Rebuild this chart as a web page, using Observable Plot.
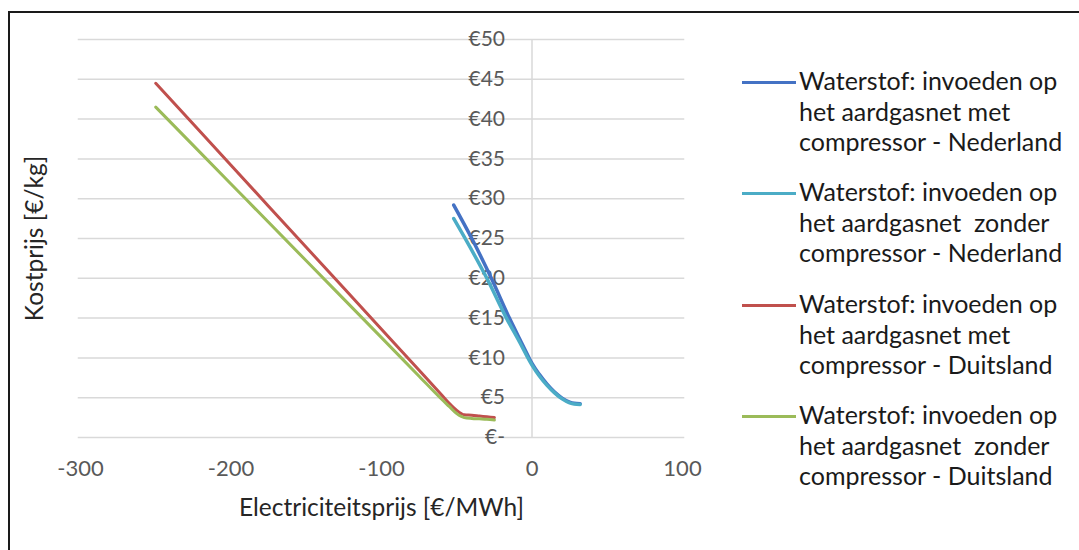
<!DOCTYPE html>
<html>
<head>
<meta charset="utf-8">
<script src="https://cdn.jsdelivr.net/npm/d3@7"></script>
<script src="https://cdn.jsdelivr.net/npm/@observablehq/plot@0.6"></script>
<style>
  html, body { margin: 0; padding: 0; background: #fff; }
  #wrap { position: relative; width: 1079px; height: 550px; overflow: hidden; background: #fff; }
  #frame { position: absolute; left: 8px; top: 11px; width: 1200px; height: 700px;
           border-left: 2px solid #1a1a1a; border-top: 2px solid #1a1a1a; box-sizing: border-box; }
  #chart { position: absolute; left: 0; top: 0; }
  #legend { position: absolute; left: 742px; top: 0; font-family: Lato, "Open Sans", sans-serif;
            font-size: 25px; color: #1a1a1a; }
  .entry { position: absolute; left: 0; width: 340px; }
  .swatch { position: absolute; left: 0; width: 54px; height: 3px; }
  .label { position: absolute; left: 57px; top: 4px; line-height: 30.5px; white-space: nowrap; }
</style>
</head>
<body>
<div id="wrap">
  <div id="frame"></div>
  <div id="chart"></div>
  <div id="legend"></div>
</div>
<script>
// ---- data ----
const seriesNames = [
  "Waterstof: invoeden op\nhet aardgasnet met\ncompressor - Nederland",
  "Waterstof: invoeden op\nhet aardgasnet  zonder\ncompressor - Nederland",
  "Waterstof: invoeden op\nhet aardgasnet met\ncompressor - Duitsland",
  "Waterstof: invoeden op\nhet aardgasnet  zonder\ncompressor - Duitsland"
];
const seriesColors = ["#4472C4", "#4BACC6", "#C0504D", "#9BBB59"];

const xNLmet    = [-52, -40, -27, -15, -8, -3, 0, 5, 10, 15, 20, 25, 28, 32];
const yNLmet    = [29.2, 25.0, 20.0, 15.0, 12.3, 10.4, 9.3, 7.9, 6.7, 5.7, 4.95, 4.45, 4.3, 4.25];
const xNLzonder = [-52, -45, -30, -17, -8, -3, 0, 5, 10, 15, 20, 25, 28, 32];
const yNLzonder = [27.5, 25.2, 20.0, 15.0, 11.9, 10.1, 9.1, 7.7, 6.55, 5.6, 4.85, 4.35, 4.2, 4.15];
const xDEmet    = [-250, -200, -150, -100, -75, -60, -55, -50, -47, -45, -40, -35, -30, -25];
const yDEmet    = [44.5, 34.2, 23.9, 13.6, 8.45, 5.35, 4.3, 3.4, 3.0, 2.85, 2.8, 2.7, 2.6, 2.5];
const xDEzonder = [-250, -200, -150, -100, -75, -60, -55, -50, -47, -45, -40, -35, -30, -25];
const yDEzonder = [41.5, 31.85, 22.2, 12.55, 7.7, 4.8, 3.9, 3.0, 2.65, 2.5, 2.4, 2.35, 2.3, 2.2];

const xTicks = [-300, -200, -100, 0, 100];
const yTicks = [0, 5, 10, 15, 20, 25, 30, 35, 40, 45, 50];
const yTickLabels = ["€-", "€5", "€10", "€15", "€20", "€25", "€30", "€35", "€40", "€45", "€50"];
const xTitle = "Electriciteitsprijs [€/MWh]";
const yTitle = "Kostprijs [€/kg]";

// ---- build ----
const toRows = (xs, ys) => xs.map((x, i) => ({x, y: ys[i]}));
const series = [
  toRows(xNLmet, yNLmet),
  toRows(xNLzonder, yNLzonder),
  toRows(xDEmet, yDEmet),
  toRows(xDEzonder, yDEzonder)
];
const widths = [3.5, 3.5, 3, 3];
const yLabelRows = yTicks.map((v, i) => ({v, t: yTickLabels[i]}));

const chart = Plot.plot({
  width: 1079,
  height: 550,
  marginLeft: 80,
  marginRight: 397,
  marginTop: 39,
  marginBottom: 113,
  x: {domain: [-300, 100]},
  y: {domain: [0, 50], axis: null},
  style: {fontFamily: "Lato, 'Open Sans', sans-serif", background: "transparent", overflow: "visible"},
  marks: [
    Plot.ruleY(yTicks, {x1: -301.5, x2: 101.5, stroke: "#d9d9d9", strokeWidth: 1.5}),
    Plot.ruleX([0], {y1: 0, y2: 50, stroke: "#d9d9d9", strokeWidth: 1.5}),
    Plot.text(yLabelRows, {x: 0, y: "v", text: "t", dx: -27, textAnchor: "end", fill: "#595959", fontSize: 21}),
    Plot.axisX({ticks: xTicks, tickSize: 0, tickPadding: 23, tickFormat: d => String(d),
                fontSize: 22, color: "#595959", label: null}),
    Plot.text([xTitle], {frameAnchor: "bottom", dy: 71, lineAnchor: "middle", textAnchor: "middle", fontSize: 24.5, fill: "#262626"}),
    Plot.text([yTitle], {frameAnchor: "left", dx: -45, rotate: -90, textAnchor: "middle", lineAnchor: "middle", fontSize: 24.5, fill: "#262626"}),
    ...series.map((rows, i) => Plot.line(rows, {x: "x", y: "y", stroke: seriesColors[i],
        strokeWidth: widths[i], curve: "monotone-x", strokeLinecap: "round"}))
  ]
});
document.getElementById("chart").appendChild(chart);

// ---- legend ----
const legend = document.getElementById("legend");
const entryTops = [61, 172, 284, 395];
seriesNames.forEach((name, i) => {
  const e = document.createElement("div");
  e.className = "entry";
  e.style.top = entryTops[i] + "px";
  const sw = document.createElement("div");
  sw.className = "swatch";
  sw.style.background = seriesColors[i];
  sw.style.top = "20px";
  const lb = document.createElement("div");
  lb.className = "label";
  lb.innerHTML = name.split("\n").map(s => s.replace(/  /g, " &nbsp;")).join("<br>");
  e.appendChild(sw);
  e.appendChild(lb);
  legend.appendChild(e);
});
</script>
</body>
</html>
